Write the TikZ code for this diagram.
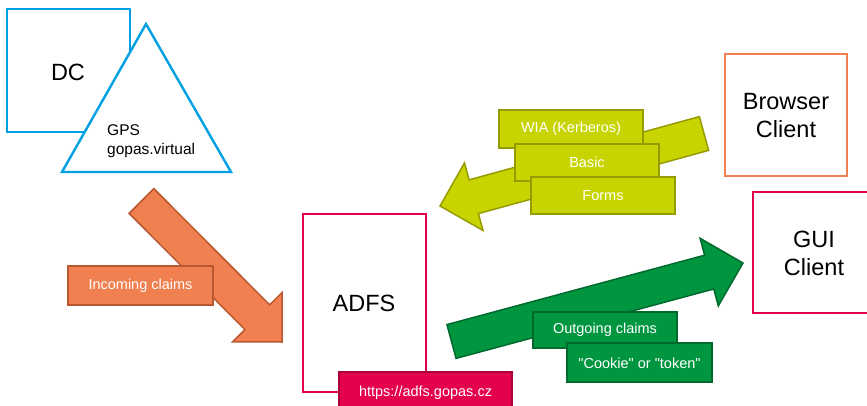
\documentclass[tikz,border=0pt]{standalone}
\usepackage{fontspec}
\setmainfont{Liberation Sans}
% same face without the TeX quote mapping, for straight quotes
\newfontfamily\rawsans{Liberation Sans}[Ligatures=ResetAll]
\usetikzlibrary{calc}

\definecolor{dcblue}{RGB}{0,160,226}
\definecolor{crimson}{RGB}{228,0,77}
\definecolor{crimsondark}{RGB}{170,0,60}
\definecolor{orangefill}{RGB}{240,128,80}
\definecolor{orangeline}{RGB}{185,88,48}
\definecolor{limefill}{RGB}{200,212,0}
\definecolor{limeline}{RGB}{150,155,0}
\definecolor{greenfill}{RGB}{0,150,64}
\definecolor{greenline}{RGB}{0,105,45}

% block arrow: shaft half width 17.5, head half width 35, head length 35
\newcommand\blockarrow[3][]{%
  \path ($#3!35pt!#2$) coordinate (ba-base);
  \draw[#1] ($#2!17.5pt!90:#3$) -- ($(ba-base)!17.5pt!90:#3$)
    -- ($(ba-base)!35pt!90:#3$) -- #3 -- ($(ba-base)!35pt!-90:#3$)
    -- ($(ba-base)!17.5pt!-90:#3$) -- ($#2!17.5pt!-90:#3$) -- cycle;}

\tikzset{
  bigtext/.style={font=\fontsize{23.5}{28}\selectfont, text=black, align=center},
  tagtext/.style={font=\fontsize{14.5}{17}\selectfont, text=white},
  tag/.style={draw=#1, line width=1.5pt, line join=miter},
}

\begin{document}
\begin{tikzpicture}[x=1pt, y=-1pt]
\useasboundingbox (0,0) rectangle (867,406);
\clip (0,0) rectangle (867,406);

% domain controller and forest
\draw[dcblue, line width=2.4pt] (7,9) rectangle (130,132);
\node[bigtext] (dc) at (68,72) {DC};
\draw[dcblue, line width=2.4pt, fill=white, line join=miter] (146,24) -- (231,172) -- (62,172) -- cycle;
\node[font=\fontsize{15.5}{19}\selectfont, anchor=base west, inner sep=0pt] (gps) at (107,136) {GPS};
\node[font=\fontsize{15.5}{19}\selectfont, anchor=base west, inner sep=0pt] (forest) at (107,155) {gopas.virtual};

% incoming claims
\coordinate (inTail) at (141.5,201);
\coordinate (inTip) at (282,342);
\blockarrow[fill=orangefill, draw=orangeline, line width=1.5pt]{(inTail)}{(inTip)}
\draw[tag=orangeline, fill=orangefill] (68,266) rectangle (213,305);
\node[tagtext] (incoming) at (140.5,285.5) {Incoming claims};

% federation server
\draw[crimson, line width=2pt] (303,214) rectangle (426,392);
\node[bigtext] (adfs) at (364,303) {ADFS};
\draw[tag=crimsondark, fill=crimson] (339,372) rectangle (512,414);
\node[tagtext] (url) at (425.5,393) {https://adfs.gopas.cz};

% browser authentication
\coordinate (authTail) at (704,133.5);
\coordinate (authTip) at (440,206);
\blockarrow[fill=limefill, draw=limeline, line width=1.5pt]{(authTail)}{(authTip)}
\draw[tag=limeline, fill=limefill] (499,110) rectangle (643,148);
\node[tagtext] (wia) at (571,129) {WIA (Kerberos)};
\draw[tag=limeline, fill=limefill] (515,144) rectangle (659,181);
\node[tagtext] (basic) at (587,162.5) {Basic};
\draw[tag=limeline, fill=limefill] (531,177) rectangle (675,214);
\node[tagtext] (forms) at (603,195.5) {Forms};

% outgoing claims
\coordinate (outTail) at (451.5,341.5);
\coordinate (outTip) at (743,263);
\blockarrow[fill=greenfill, draw=greenline, line width=1.5pt]{(outTail)}{(outTip)}
\draw[tag=greenline, fill=greenfill] (533,312) rectangle (677,348);
\node[tagtext] (outgoing) at (605,330) {Outgoing claims};
\draw[tag=greenline, fill=greenfill] (567,343) rectangle (712,382);
\node[tagtext, font=\rawsans\fontsize{14.5}{17}\selectfont] (token) at (639.5,363) {"Cookie" or "token"};

% clients
\draw[orangefill, line width=2pt] (725,54) rectangle (847,176);
\node[bigtext] (browser) at (786,116) {Browser\\Client};
\draw[crimson, line width=2pt] (753,192) rectangle (875,313);
\node[bigtext] (gui) at (814,253) {GUI\\Client};
\end{tikzpicture}
\end{document}
